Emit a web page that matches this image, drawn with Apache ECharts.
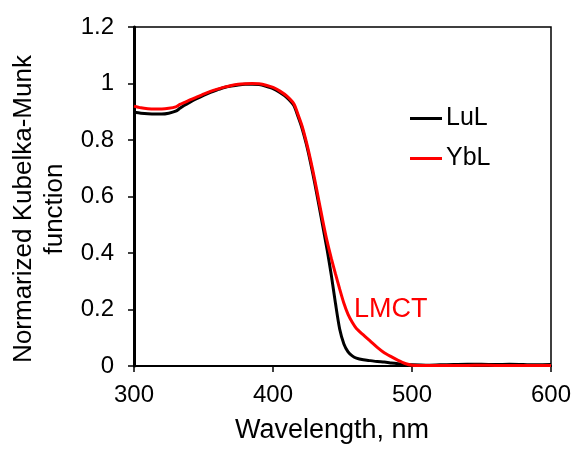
<!DOCTYPE html>
<html>
<head>
<meta charset="utf-8">
<script src="https://cdn.jsdelivr.net/npm/echarts@6/dist/echarts.min.js"></script>
<style>
html,body{margin:0;padding:0;background:#fff;}
#chart{width:577px;height:449px;}
</style>
</head>
<body>
<div id="chart"></div>
<script>
var wavelengths = [300,305,310,315,320,325,330,333,336,340,345,350,355,360,365,370,375,380,385,390,395,400,405,410,415,418,421,424,427,430,433,436,439,442,445,448,451,454,457,460,465,470,475,480,485,490,495,500,510,520,530,540,550,560,570,580,590,600];
var luL = [0.898,0.895,0.893,0.892,0.892,0.895,0.902,0.912,0.922,0.933,0.946,0.958,0.969,0.978,0.986,0.991,0.995,0.997,0.997,0.996,0.990,0.982,0.968,0.950,0.922,0.883,0.840,0.785,0.720,0.648,0.570,0.490,0.410,0.320,0.220,0.130,0.078,0.050,0.036,0.028,0.022,0.019,0.016,0.014,0.011,0.008,0.005,0.004,0.003,0.004,0.005,0.006,0.006,0.005,0.006,0.005,0.004,0.005];
var ybL = [0.920,0.914,0.911,0.910,0.910,0.912,0.917,0.926,0.932,0.941,0.952,0.962,0.972,0.980,0.987,0.993,0.997,0.999,1.000,0.999,0.994,0.986,0.973,0.955,0.928,0.890,0.848,0.793,0.730,0.660,0.585,0.510,0.440,0.380,0.325,0.272,0.222,0.183,0.155,0.133,0.110,0.088,0.066,0.047,0.033,0.020,0.009,0.003,0.002,0.002,0.002,0.002,0.003,0.002,0.002,0.002,0.002,0.002];
var seriesNames = ['LuL','YbL'];
var xTitle = 'Wavelength, nm';
var yTitle = 'Normarized Kubelka-Munk\nfunction';
var annotation = 'LMCT';

function pairs(xs, ys){ return xs.map(function(x,i){ return [x, ys[i]]; }); }

var chart = echarts.init(document.getElementById('chart'));
var font = '"Liberation Sans", Arial, Helvetica, sans-serif';
chart.setOption({
  animation: false,
  backgroundColor: '#fff',
  textStyle: {fontFamily: font},
  grid: {left: 134, right: 26, top: 27, bottom: 83, show: true, borderColor: '#000', borderWidth: 1.5, containLabel: false},
  legend: {
    orient: 'vertical', left: 410, top: 106, icon: 'rect', itemWidth: 32, itemHeight: 3, itemGap: 15,
    padding: 0, selectedMode: false,
    textStyle: {fontSize: 25, color: '#000', fontFamily: font, padding: [0,0,0,-1]},
    data: seriesNames
  },
  xAxis: {
    type: 'value', min: 300, max: 600, interval: 100,
    axisLine: {show: true, lineStyle: {color: '#000', width: 2}},
    axisTick: {show: true, length: 6, lineStyle: {color: '#000', width: 1.5}},
    axisLabel: {fontSize: 24, color: '#000', margin: 17, fontFamily: font},
    splitLine: {show: false}
  },
  yAxis: {
    type: 'value', min: 0, max: 1.2, interval: 0.2,
    axisLine: {show: true, lineStyle: {color: '#000', width: 3}},
    axisTick: {show: true, length: 6, lineStyle: {color: '#000', width: 1.5}},
    axisLabel: {fontSize: 24, color: '#000', margin: 20, fontFamily: font,
      formatter: function(v){ return String(+v.toFixed(1)); }},
    splitLine: {show: false}
  },
  graphic: [
    {type: 'text', x: 332, y: 431,
     style: {text: xTitle, fontSize: 27, fill: '#000', fontFamily: font, textAlign: 'center', textVerticalAlign: 'middle'}},
    {type: 'text', rotation: Math.PI/2, x: 39, y: 209,
     style: {text: yTitle, fontSize: 26, lineHeight: 31, fill: '#000', fontFamily: font, textAlign: 'center', textVerticalAlign: 'middle'}},
    {type: 'text', x: 354, y: 310,
     style: {text: annotation, fontSize: 27, fill: '#ff0000', fontFamily: font, textAlign: 'left', textVerticalAlign: 'middle'}}
  ],
  series: [
    {name: seriesNames[0], type: 'line', data: pairs(wavelengths, luL), showSymbol: false, smooth: 0.25,
     lineStyle: {color: '#000', width: 3}, itemStyle: {color: '#000'}, z: 2},
    {name: seriesNames[1], type: 'line', data: pairs(wavelengths, ybL), showSymbol: false, smooth: 0.25,
     lineStyle: {color: '#ff0000', width: 3}, itemStyle: {color: '#ff0000'}, z: 3}
  ]
});
</script>
</body>
</html>
